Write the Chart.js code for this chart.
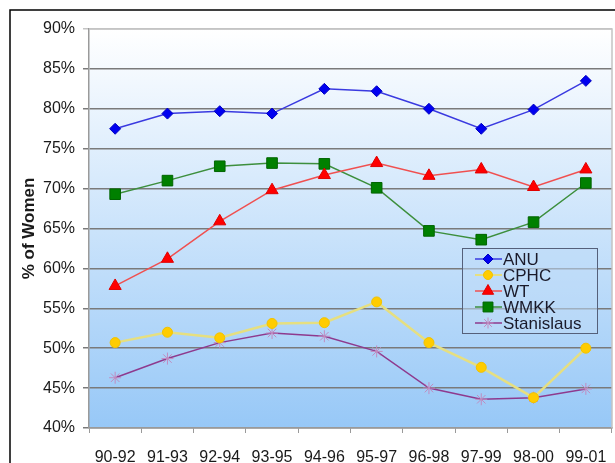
<!DOCTYPE html>
<html>
<head>
<meta charset="utf-8">
<script src="https://cdn.jsdelivr.net/npm/chart.js@4"></script>
<style>
  body { margin: 0; background: #fff; }
  #wrap { width: 615px; height: 463px; }
</style>
</head>
<body>
<div id="wrap"><canvas id="chart"></canvas></div>
<script>
const periods = ["90-92", "91-93", "92-94", "93-95", "94-96", "95-97", "96-98", "97-99", "98-00", "99-01"];
const anu = [77.5, 79.4, 79.7, 79.4, 82.5, 82.2, 80.0, 77.5, 79.9, 83.5];
const cphc = [50.7, 52.0, 51.3, 53.1, 53.2, 55.8, 50.7, 47.6, 43.8, 50.0];
const wt = [57.8, 61.2, 65.9, 69.8, 71.7, 73.2, 71.6, 72.4, 70.2, 72.4];
const wmkk = [69.3, 71.0, 72.8, 73.2, 73.1, 70.1, 64.7, 63.6, 65.8, 70.7];
const stanislaus = [46.3, 48.7, 50.7, 51.9, 51.5, 49.6, 45.0, 43.6, 43.8, 44.9];

const font = "'Liberation Sans', Arial, sans-serif";

// gradient plot background + outer frame
const background = {
  id: "background",
  beforeDraw(chart) {
    const ctx = chart.ctx;
    const a = chart.chartArea;
    const g = ctx.createLinearGradient(0, a.top, 0, a.bottom);
    g.addColorStop(0, "#ffffff");
    g.addColorStop(1, "#97c8f7");
    ctx.save();
    ctx.fillStyle = g;
    ctx.fillRect(a.left, a.top, a.right - a.left, a.bottom - a.top);
    ctx.strokeStyle = "#000";
    ctx.lineWidth = 1.5;
    ctx.beginPath();
    ctx.moveTo(10, 463);
    ctx.lineTo(10, 10);
    ctx.lineTo(615, 10);
    ctx.stroke();
    ctx.restore();
  },
  afterDraw(chart) {
    const ctx = chart.ctx;
    const a = chart.chartArea;
    ctx.save();
    ctx.strokeStyle = "#c4c4c4";
    ctx.lineWidth = 1.5;
    ctx.beginPath();
    ctx.moveTo(a.left, a.top);
    ctx.lineTo(a.right, a.top);
    ctx.lineTo(a.right, a.bottom);
    ctx.stroke();
    ctx.restore();
  }
};

// legend box inside the plot
const boxLegend = {
  id: "boxLegend",
  afterDatasetsDraw(chart) {
    const ctx = chart.ctx;
    const x = 462, y = 248, w = 135, h = 85;
    ctx.save();
    ctx.fillStyle = "rgba(190,218,247,0.55)";
    ctx.fillRect(x, y, w, h);
    ctx.strokeStyle = "#55607a";
    ctx.lineWidth = 1;
    ctx.strokeRect(x + 0.5, y + 0.5, w, h);
    chart.data.datasets.forEach((ds, i) => {
      const cy = y + 11 + i * 16;
      ctx.strokeStyle = ds.borderColor;
      ctx.lineWidth = Math.min(ds.borderWidth, 2);
      ctx.beginPath();
      ctx.moveTo(x + 13, cy);
      ctx.lineTo(x + 40, cy);
      ctx.stroke();
      ctx.fillStyle = ds.pointBackgroundColor;
      ctx.strokeStyle = ds.pointBorderColor;
      ctx.lineWidth = 1;
      Chart.helpers.drawPoint(ctx, {
        pointStyle: ds.pointStyle,
        radius: ds.pointRadius - 0.5,
        rotation: 0,
        borderWidth: ds.pointBorderWidth
      }, x + 26, cy);
      ctx.fillStyle = "#1a1a2a";
      ctx.font = "17px " + font;
      ctx.textBaseline = "middle";
      ctx.fillText(ds.label, x + 41, cy + 1);
    });
    ctx.restore();
  }
};

function series(label, data, line, fill, border, style, radius, width) {
  return {
    label: label,
    data: data,
    borderColor: line,
    borderWidth: width,
    pointStyle: style,
    pointRadius: radius,
    pointBackgroundColor: fill,
    pointBorderColor: border,
    pointBorderWidth: 1,
    tension: 0
  };
}

new Chart(document.getElementById("chart"), {
  type: "line",
  data: {
    labels: periods,
    datasets: [
      series("ANU", anu, "#3a3ae0", "#0000f0", "#0000c0", "rectRot", 5.5, 1.5),
      series("CPHC", cphc, "#e6df80", "#ffcc00", "#f2c200", "circle", 5, 2.5),
      series("WT", wt, "#f05050", "#ff0000", "#e00000", "triangle", 7, 1.5),
      series("WMKK", wmkk, "#3d8f3d", "#008000", "#006400", "rect", 7.5, 1.5),
      series("Stanislaus", stanislaus, "#8e3a8e", "#c890c8", "#c08cc0", "star", 6, 1.5)
    ]
  },
  options: {
    responsive: true,
    maintainAspectRatio: false,
    animation: false,
    layout: { autoPadding: false, padding: { left: 19, top: 29, right: 3, bottom: 0 } },
    plugins: {
      legend: { display: false },
      tooltip: { enabled: false }
    },
    scales: {
      x: {
        offset: true,
        grid: { drawOnChartArea: false, offset: true, tickLength: 5, color: "#9a9a9a" },
        border: { color: "#9a9a9a", width: 1.5 },
        ticks: {
          font: { family: font, size: 16, lineHeight: 3.1 },
          color: "#1a1a1a",
          padding: 0,
          maxRotation: 0
        },
        afterFit(scale) { scale.height = 35; }
      },
      y: {
        min: 40,
        max: 90,
        title: {
          display: true,
          text: "% of Women",
          font: { family: font, size: 17, weight: "bold" },
          color: "#1a1a1a",
          padding: 0
        },
        grid: {
          tickLength: 6,
          lineWidth: 1.5,
          color: (c) => (c.tick && c.tick.value === 90 ? "#c4c4c4" : "#7a7a7a")
        },
        border: { color: "#9a9a9a", width: 1.5 },
        ticks: {
          stepSize: 5,
          padding: 8,
          font: { family: font, size: 16 },
          color: "#1a1a1a",
          callback: (v) => v + "%"
        },
        afterFit(scale) { scale.width = 70; }
      }
    }
  },
  plugins: [background, boxLegend]
});
</script>
</body>
</html>
